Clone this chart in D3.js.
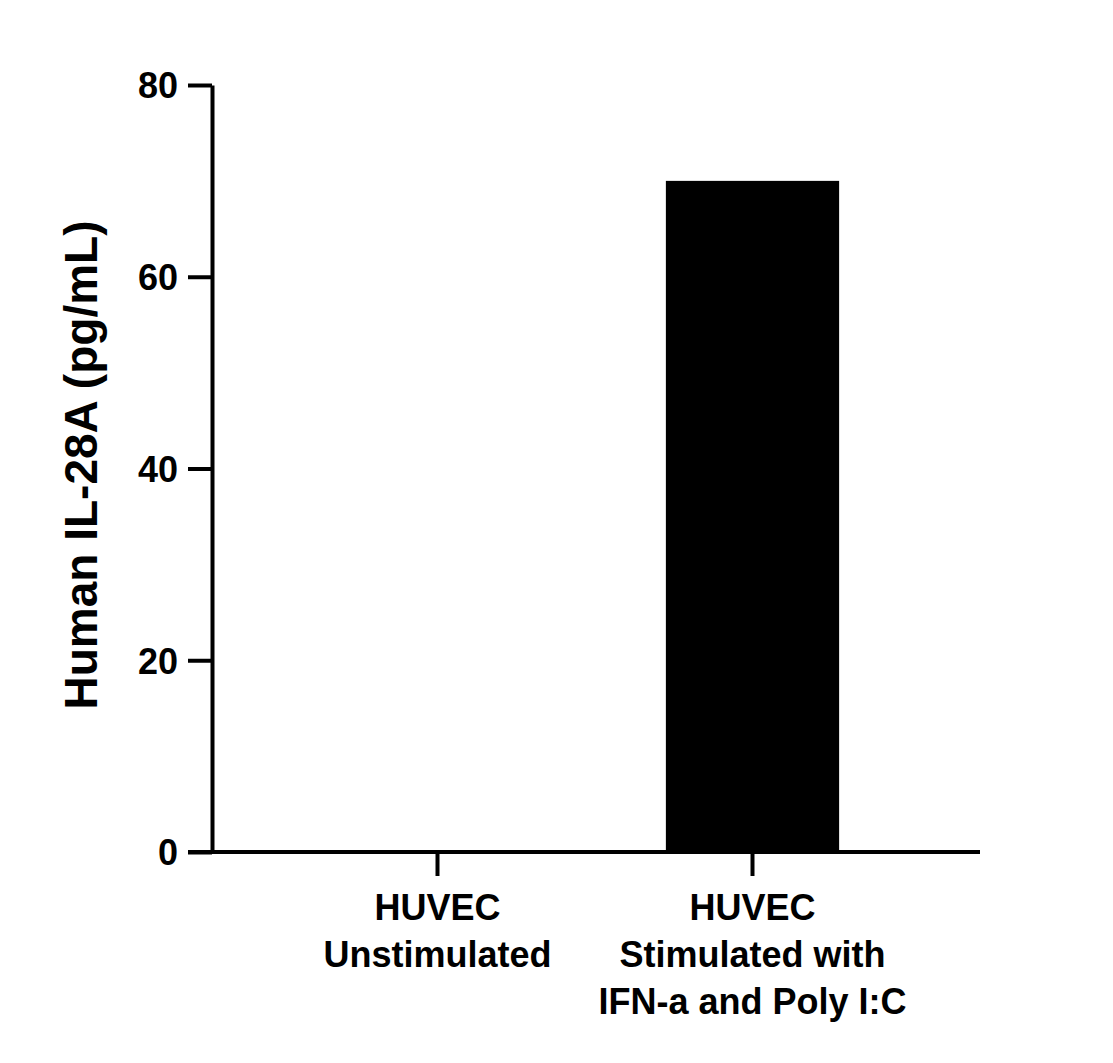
<!DOCTYPE html>
<html><head><meta charset="utf-8">
<script src="https://cdn.jsdelivr.net/npm/d3@7"></script>
<style>body{margin:0;background:#fff}text{font-family:"Liberation Sans",Arial,sans-serif;font-weight:bold;fill:#000}</style>
</head><body>
<script>
const categories = [["HUVEC","Unstimulated"],["HUVEC","Stimulated with","IFN-a and Poly I:C"]];
const values = [0, 70];
const yTicks = [0, 20, 40, 60, 80];

const svg = d3.select("body").append("svg").attr("width",1113).attr("height",1063);
const x = d3.scaleBand().domain(d3.range(categories.length)).range([280,910]).paddingInner(0.45).paddingOuter(0.225);
const y = d3.scaleLinear().domain([0,80]).range([852,85]);

svg.selectAll("rect.bar").data(values).enter().append("rect")
  .attr("x",(d,i)=>x(i)).attr("width",x.bandwidth())
  .attr("y",d=>y(d)).attr("height",d=>y(0)-y(d)).attr("fill","#000");

const ya = svg.append("g").attr("transform","translate(212,0)")
  .call(d3.axisLeft(y).tickValues(yTicks).tickSize(24).tickPadding(10).tickSizeOuter(0));
const xa = svg.append("g").attr("transform","translate(0,852)")
  .call(d3.axisBottom(x).tickSize(24).tickSizeOuter(0).tickFormat(""));
xa.select(".domain").attr("d","M188,0H980");
[ya,xa].forEach(g=>{g.selectAll("path,line").attr("stroke","#000").attr("stroke-width",4);});
ya.selectAll("text").style("font-size","36px").attr("dy","0.36em");

categories.forEach((lines,i)=>{
  const t = svg.append("text").attr("text-anchor","middle").style("font-size","36px");
  lines.forEach((l,j)=>t.append("tspan").attr("x",x(i)+x.bandwidth()/2).attr("y",920+j*47).text(l));
});

svg.append("text").attr("transform","translate(97,465) rotate(-90)").attr("text-anchor","middle")
  .style("font-size","46px").text("Human IL-28A (pg/mL)");
</script>
</body></html>
